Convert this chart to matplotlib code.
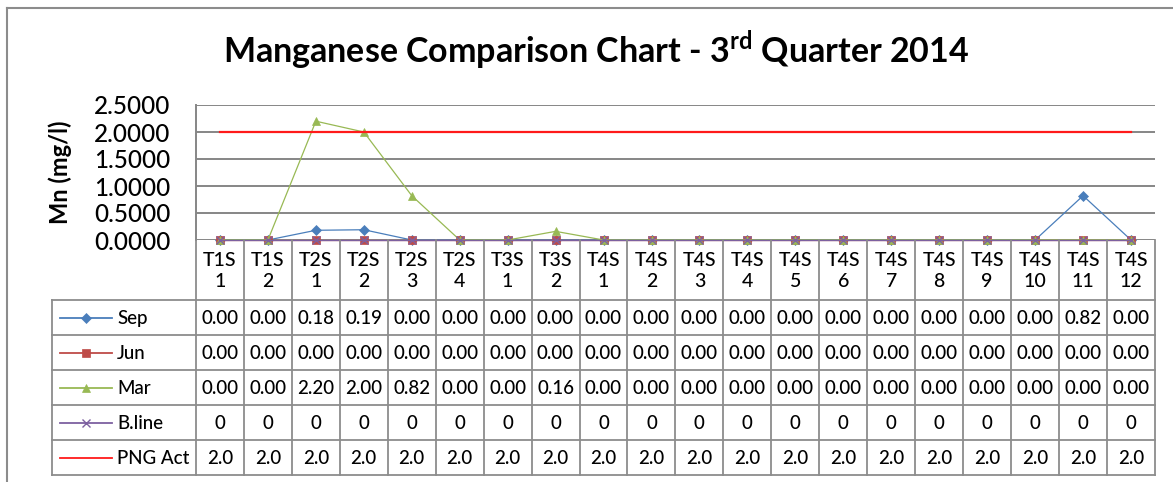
import matplotlib
matplotlib.use('Agg')
import matplotlib.pyplot as plt
from matplotlib.lines import Line2D

plt.rcParams['font.family'] = ['Lato', 'DejaVu Sans']
plt.rcParams['font.weight'] = 'medium'
plt.rcParams['mathtext.fontset'] = 'custom'
plt.rcParams['mathtext.rm'] = 'Lato:bold'
plt.rcParams['mathtext.bf'] = 'Lato:bold'

# ---------------- data ----------------
categories = ["T1S\n1", "T1S\n2", "T2S\n1", "T2S\n2", "T2S\n3", "T2S\n4",
              "T3S\n1", "T3S\n2", "T4S\n1", "T4S\n2", "T4S\n3", "T4S\n4",
              "T4S\n5", "T4S\n6", "T4S\n7", "T4S\n8", "T4S\n9", "T4S\n10",
              "T4S\n11", "T4S\n12"]
sep = [0.00, 0.00, 0.18, 0.19, 0.00, 0.00, 0.00, 0.00, 0.00, 0.00,
       0.00, 0.00, 0.00, 0.00, 0.00, 0.00, 0.00, 0.00, 0.82, 0.00]
jun = [0.00, 0.00, 0.00, 0.00, 0.00, 0.00, 0.00, 0.00, 0.00, 0.00,
       0.00, 0.00, 0.00, 0.00, 0.00, 0.00, 0.00, 0.00, 0.00, 0.00]
mar = [0.00, 0.00, 2.20, 2.00, 0.82, 0.00, 0.00, 0.16, 0.00, 0.00,
       0.00, 0.00, 0.00, 0.00, 0.00, 0.00, 0.00, 0.00, 0.00, 0.00]
bline = [0, 0, 0, 0, 0, 0, 0, 0, 0, 0, 0, 0, 0, 0, 0, 0, 0, 0, 0, 0]
png_act = [2.0, 2.0, 2.0, 2.0, 2.0, 2.0, 2.0, 2.0, 2.0, 2.0,
           2.0, 2.0, 2.0, 2.0, 2.0, 2.0, 2.0, 2.0, 2.0, 2.0]
series_names = ["Sep", "Jun", "Mar", "B.line", "PNG Act"]
series_values = [sep, jun, mar, bline, png_act]
series_formats = ["{:.2f}", "{:.2f}", "{:.2f}", "{:.0f}", "{:.1f}"]
y_ticks = [0.0, 0.5, 1.0, 1.5, 2.0, 2.5]

# ---------------- styles ----------------
colors = ["#4A7EBB", "#BE4B48", "#98B954", "#7D60A0", "#FF1A1A"]
markers = ["D", "s", "^", "x", None]
msizes = [5, 5.5, 6, 5.5, 0]
lwidths = [0.9, 0.9, 0.9, 0.9, 1.6]
grid_col = "#868686"
tab_col = "#8C8C8C"

W, H = 1173, 482
fig = plt.figure(figsize=(W / 100, H / 100), dpi=100)

def fx(px):
    return px / W

def fy(py):
    return 1 - py / H

# plot area: x 196..1155, y 105..240
ax = fig.add_axes([fx(196), fy(240), fx(1155) - fx(196), (240 - 105) / H])
n = len(categories)
xs = [i + 0.5 for i in range(n)]
for vals, c, m, ms, lw in zip(series_values, colors, markers, msizes, lwidths):
    ax.plot(xs, vals, color=c, marker=m, markersize=ms, lw=lw,
            markeredgewidth=1.0 if m == 'x' else 0.5, clip_on=False, zorder=3)
ax.set_xlim(0, n)
ax.set_ylim(0, 2.5)
ax.set_yticks(y_ticks)
ax.set_yticklabels(["{:.4f}".format(v) for v in y_ticks], fontsize=17.5)
ax.tick_params(axis='y', length=0, pad=18.5)
ax.set_xticks([])
ax.yaxis.grid(True, color=grid_col, lw=1.4, zorder=1)
for s in ['top', 'right', 'bottom']:
    ax.spines[s].set_visible(False)
ax.spines['left'].set_color(grid_col)
ax.spines['left'].set_linewidth(1.4)

fig.text(fx(60), fy(172), "Mn (mg/l)", rotation=90, fontsize=17,
         fontweight='bold', ha='center', va='center')
fig.text(fx(596), fy(50), r"Manganese Comparison Chart - 3$^{\mathrm{rd}}$ Quarter 2014",
         fontsize=24.5, fontweight='bold', ha='center', va='center')

# ---------------- data table ----------------
tab = fig.add_axes([fx(52), fy(475), fx(1155) - fx(52), (475 - 240) / H])
tab.set_xlim(-3, n)
tab.set_ylim(235, 0)
tab.axis('off')
hdr = 60
rh = 35
bottom = hdr + rh * len(series_names)
lkw = dict(color=tab_col, lw=1.3, clip_on=False)
for i in range(n + 1):
    tab.plot([i, i], [0, bottom], **lkw)
tab.plot([-3, -3], [hdr, bottom], **lkw)
for r in range(len(series_names) + 1):
    y = hdr + rh * r
    tab.plot([-3, n], [y, y], **lkw)

for i, lab in enumerate(categories):
    tab.text(i + 0.5, hdr / 2 + 1, lab, ha='center', va='center',
             fontsize=14, linespacing=1.35)

for r, (name, vals, fmt, c, m, ms, lw) in enumerate(
        zip(series_names, series_values, series_formats, colors, markers, msizes, lwidths)):
    yc = hdr + rh * r + rh / 2
    tab.plot([-2.833, -1.75], [yc, yc], color=c, lw=1.3, clip_on=False)
    if m is not None:
        tab.plot([-2.29], [yc], color=c, marker=m, markersize=ms,
                 markeredgewidth=1.0 if m == 'x' else 0.5, clip_on=False)
    tab.text(-1.64, yc + 1, name, ha='left', va='center', fontsize=13.5)
    for i, v in enumerate(vals):
        tab.text(i + 0.5, yc + 1, fmt.format(v), ha='center', va='center', fontsize=13.5)

# outer chart border
fig.add_artist(Line2D([fx(7), fx(7)], [0, fy(8)], color="#8C8C8C", lw=1.5,
                      transform=fig.transFigure))
fig.add_artist(Line2D([fx(7), 1], [fy(8), fy(8)], color="#8C8C8C", lw=1.5,
                      transform=fig.transFigure))

fig.savefig("out.png", dpi=100)
